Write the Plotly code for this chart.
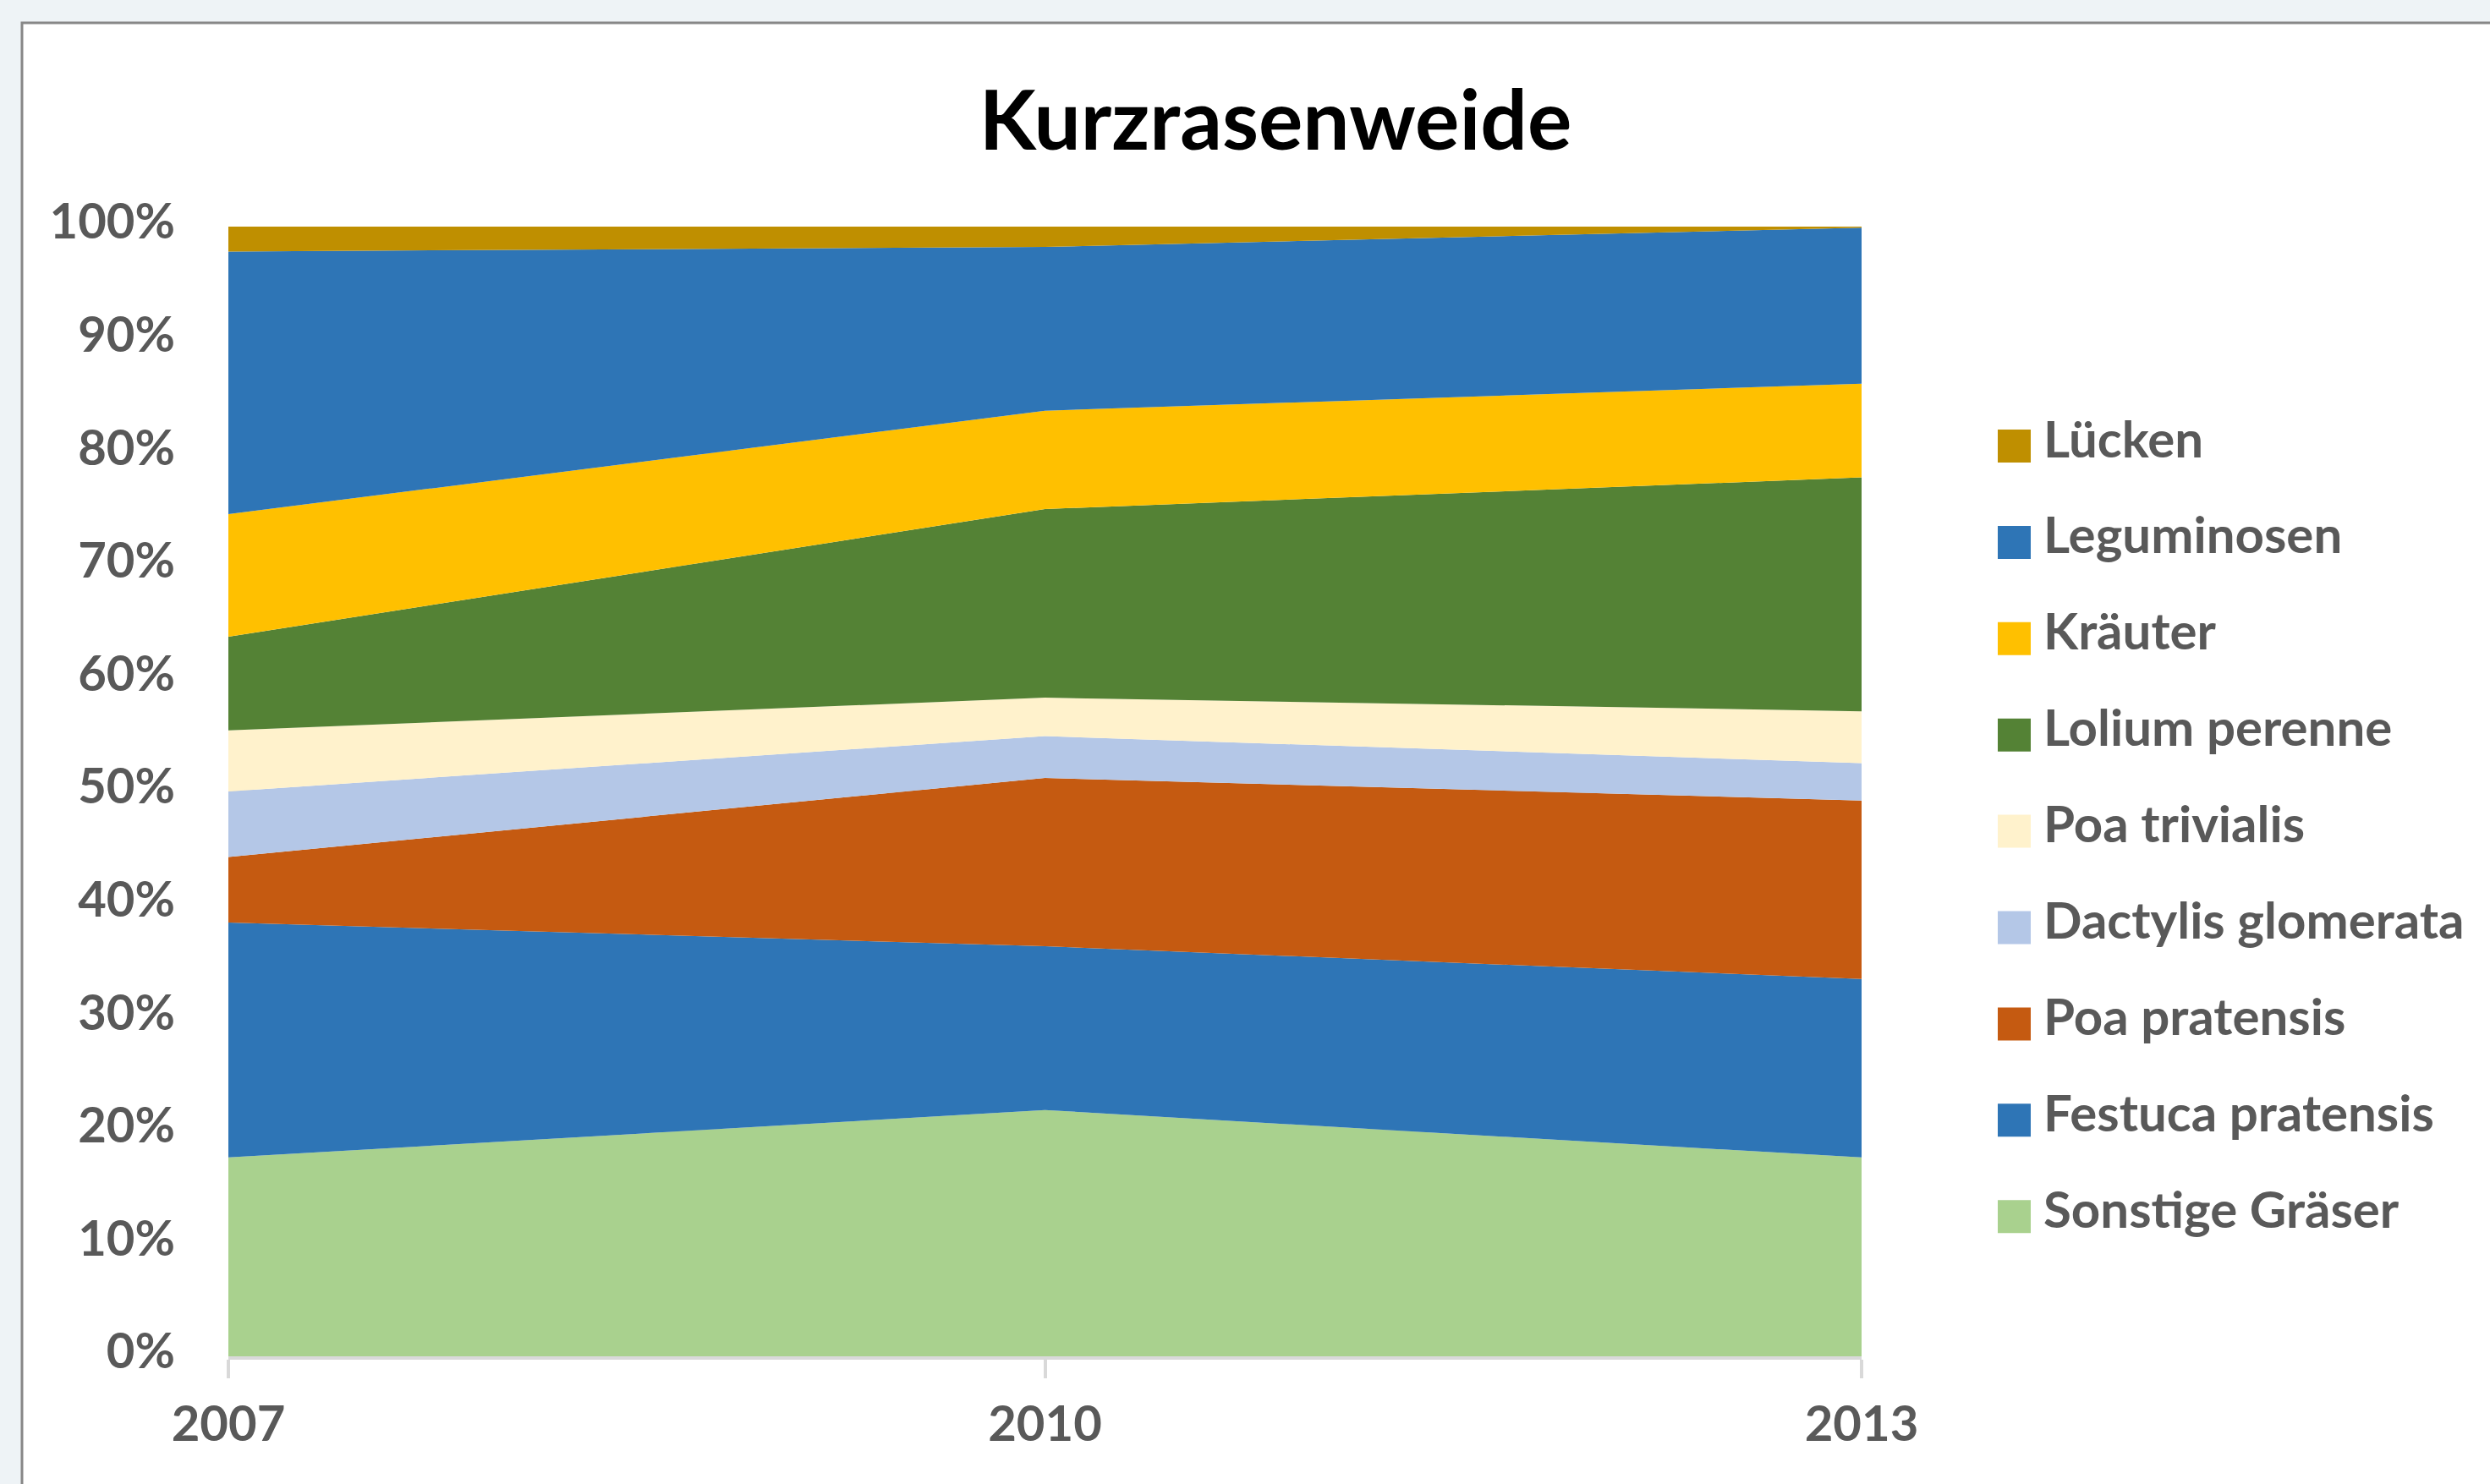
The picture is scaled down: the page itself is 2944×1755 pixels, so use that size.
import plotly.graph_objects as go

# ---------------- data ----------------
years = ["2007", "2010", "2013"]
series_names = ["Sonstige Gräser", "Festuca pratensis", "Poa pratensis",
                "Dactylis glomerata", "Poa trivialis", "Lolium perenne",
                "Kräuter", "Leguminosen", "Lücken"]
sonstige_graeser = [17.6, 21.8, 17.6]
festuca_pratensis = [20.8, 14.5, 15.8]
poa_pratensis = [5.8, 14.9, 15.8]
dactylis_glomerata = [5.8, 3.7, 3.3]
poa_trivialis = [5.4, 3.4, 4.6]
lolium_perenne = [8.3, 16.7, 20.7]
kraeuter = [10.85, 8.7, 8.3]
leguminosen = [23.25, 14.5, 13.8]
luecken = [2.2, 1.8, 0.1]
y_tick_values = [0, 10, 20, 30, 40, 50, 60, 70, 80, 90, 100]
y_tick_labels = ["0%", "10%", "20%", "30%", "40%", "50%", "60%", "70%", "80%", "90%", "100%"]

series_values = [sonstige_graeser, festuca_pratensis, poa_pratensis, dactylis_glomerata,
                 poa_trivialis, lolium_perenne, kraeuter, leguminosen, luecken]

# ---------------- styles ----------------
colors = ["#A9D18E", "#2E75B6", "#C55A11", "#B4C7E7", "#FFF2CC",
          "#548235", "#FFC000", "#2E75B6", "#BF8F00"]

W, H = 2944, 1755
PL, PR, PT, PB = 270, 2201, 268, 1604  # plot area in pixels
FONT = "Lato"
TXT = "#595959"
GRID = "#D9D9D9"


def px_x(x):
    return (x - PL) / (PR - PL)


def px_y(y):
    return (PB - y) / (PB - PT)


fig = go.Figure()
for name, vals, col in zip(series_names, series_values, colors):
    fig.add_trace(go.Scatter(
        x=years, y=vals, name=name, mode="none", stackgroup="one",
        groupnorm="percent", fillcolor=col, showlegend=False,
        hovertemplate="%{x}: %{y:.1f}%<extra>" + name + "</extra>"))

shapes = [dict(type="rect", xref="paper", yref="paper", layer="below",
               x0=px_x(26), x1=px_x(2990), y0=px_y(1800), y1=px_y(27),
               fillcolor="white", line=dict(color="#878787", width=3))]
annotations = []

# legend (top item = last series)
LEG_Y0, LEG_STEP, SQ = 527.5, 113.9, 39
for k, idx in enumerate(range(len(series_names) - 1, -1, -1)):
    yc = LEG_Y0 + k * LEG_STEP
    shapes.append(dict(type="rect", xref="paper", yref="paper", layer="above",
                       x0=px_x(2362), x1=px_x(2362 + SQ),
                       y0=px_y(yc + SQ / 2), y1=px_y(yc - SQ / 2),
                       fillcolor=colors[idx], line=dict(width=0)))
    annotations.append(dict(xref="paper", yref="paper", x=px_x(2414), y=px_y(yc - 10),
                            xanchor="left", yanchor="middle", showarrow=False,
                            text=series_names[idx],
                            font=dict(family=FONT, size=60, color=TXT, weight="bold")))

fig.update_layout(
    width=W, height=H,
    margin=dict(l=PL, r=W - PR, t=PT, b=H - PB, pad=0),
    paper_bgcolor="#EEF3F6", plot_bgcolor="white",
    title=dict(text="Kurzrasenweide", xref="container", yref="container",
               x=1508 / W, y=1 - 143 / H, xanchor="center", yanchor="middle",
               font=dict(family=FONT, size=98, color="black", weight="bold")),
    shapes=shapes, annotations=annotations,
    showlegend=False,
    xaxis=dict(type="category", range=[0, 2], showgrid=False, zeroline=False,
               showline=True, linecolor=GRID, linewidth=4,
               ticks="outside", ticklen=22, tickwidth=4, tickcolor=GRID,
               ticklabelstandoff=4,
               tickfont=dict(family=FONT, size=58, color=TXT, weight="bold")),
    yaxis=dict(range=[0, 100], tickmode="array", tickvals=y_tick_values,
               ticktext=y_tick_labels, showgrid=True, gridcolor=GRID, gridwidth=4,
               zeroline=False, showline=False, ticks="", ticklabelstandoff=62,
               ticklabelshift=-6,
               tickfont=dict(family=FONT, size=58, color=TXT, weight="bold")),
)

fig.write_html("out.html", config={"displayModeBar": False},
               post_script="document.body.style.margin='0';")
